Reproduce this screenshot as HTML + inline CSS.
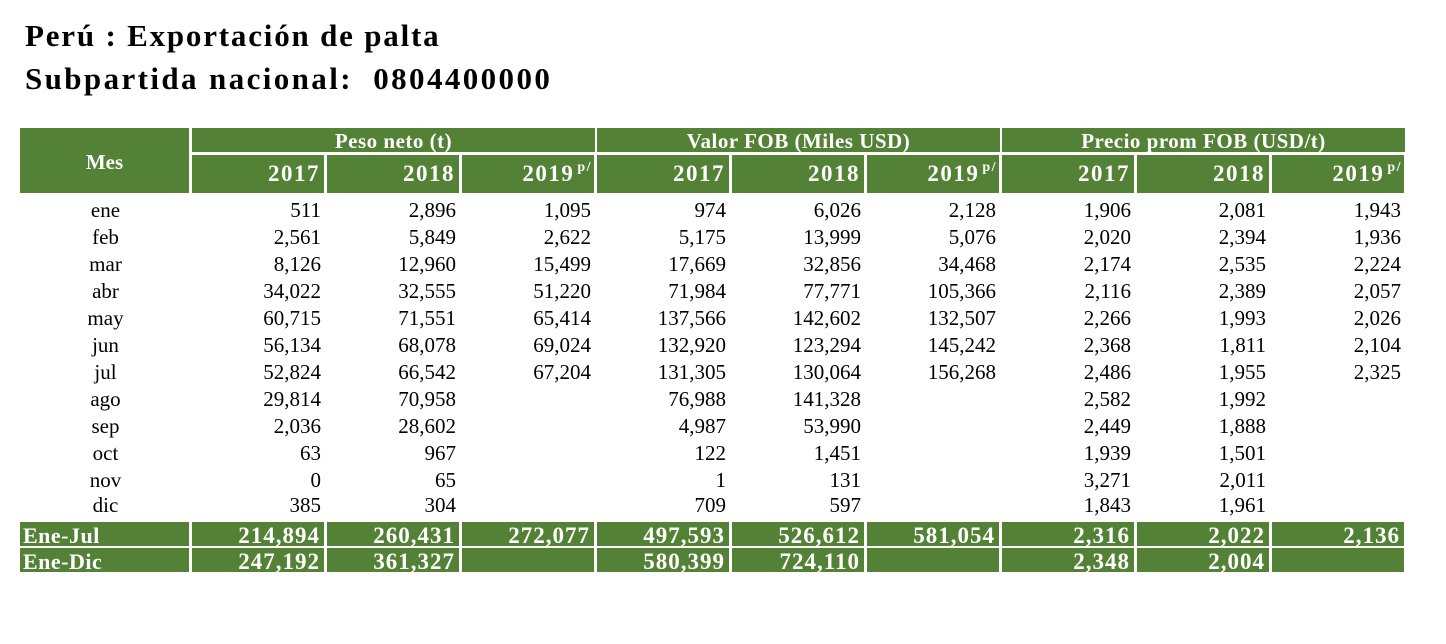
<!DOCTYPE html>
<html><head><meta charset="utf-8">
<style>
body{margin:0;width:1446px;height:644px;background:#fff;position:relative;overflow:hidden;font-family:"Liberation Serif",serif;}
.t{position:absolute;left:25px;font-weight:bold;font-size:31px;color:#000;white-space:nowrap}
.g{position:absolute;background:#538135;color:#fff;font-weight:bold;}
.c{position:absolute;font-size:21px;white-space:nowrap;line-height:24px}
.r{text-align:right}
sup{font-size:14px;vertical-align:top;position:relative;top:-6px;margin-left:3px}
</style></head><body>
<div class="t" style="top:18px;letter-spacing:1.8px">Perú : Exportación de palta</div>
<div class="t" style="top:61px;letter-spacing:2.4px">Subpartida nacional:&nbsp; 0804400000</div>
<div id="tbl"></div>
<script>
const months=["ene","feb","mar","abr","may","jun","jul","ago","sep","oct","nov","dic"];
const peso2017=["511","2,561","8,126","34,022","60,715","56,134","52,824","29,814","2,036","63","0","385"];
const peso2018=["2,896","5,849","12,960","32,555","71,551","68,078","66,542","70,958","28,602","967","65","304"];
const peso2019=["1,095","2,622","15,499","51,220","65,414","69,024","67,204","","","","",""];
const fob2017=["974","5,175","17,669","71,984","137,566","132,920","131,305","76,988","4,987","122","1","709"];
const fob2018=["6,026","13,999","32,856","77,771","142,602","123,294","130,064","141,328","53,990","1,451","131","597"];
const fob2019=["2,128","5,076","34,468","105,366","132,507","145,242","156,268","","","","",""];
const pr2017=["1,906","2,020","2,174","2,116","2,266","2,368","2,486","2,582","2,449","1,939","3,271","1,843"];
const pr2018=["2,081","2,394","2,535","2,389","1,993","1,811","1,955","1,992","1,888","1,501","2,011","1,961"];
const pr2019=["1,943","1,936","2,224","2,057","2,026","2,104","2,325","","","","",""];
const eneJul=["214,894","260,431","272,077","497,593","526,612","581,054","2,316","2,022","2,136"];
const eneDic=["247,192","361,327","","580,399","724,110","","2,348","2,004",""];
const groups=["Peso neto (t)","Valor FOB (Miles USD)","Precio prom FOB (USD/t)"];
const years=["2017","2018","2019"];
const cols=[peso2017,peso2018,peso2019,fob2017,fob2018,fob2019,pr2017,pr2018,pr2019];
const T=document.getElementById('tbl');
const X=[20,191,326,461,596,731,866,1001,1136,1271,1406];
function box(cls,x,y,w,h,html,style){const d=document.createElement('div');d.className=cls;d.style.cssText=`left:${x}px;top:${y}px;width:${w}px;height:${h}px;`+(style||'');d.innerHTML=html;T.appendChild(d);return d;}
let d=box('g',20,128,169,65,'<div style="text-align:center;font-size:21px;margin-top:22px">Mes</div>');

groups.forEach((g,i)=>{const x=X[1+i*3];const w=X[4+i*3]-x-2;
const e=box('g',x+1,128,w,24,g,'text-align:center;font-size:21px;line-height:27px;overflow:hidden;letter-spacing:0.5px');

for(let j=0;j<3;j++){const cx=X[1+i*3+j];const yh=box('g',cx+1,155,X[2+i*3+j]-cx-3,38,years[j]+(j==2?'<sup>p/</sup>':''),'text-align:right;font-size:23px;line-height:38px;box-sizing:border-box;padding-right:'+(j==2?2:4)+'px;letter-spacing:1.5px');
}});
months.forEach((m,r)=>{const y=198+r*27-(r==11?2:0);
const mc=box('c',20,y,171,24,m,'text-align:center');

cols.forEach((c,k)=>{const v=box('c r',X[k+1],y,X[k+2]-X[k+1]-5,24,c[r]);
});});
[[eneJul,'Ene-Jul',522],[eneDic,'Ene-Dic',548]].forEach(([arr,lab,y])=>{
const l=box('g',20,y,169,24,lab,'font-size:22px;line-height:27px;padding-left:3px;box-sizing:border-box;overflow:hidden;letter-spacing:0.5px');

arr.forEach((v,k)=>{const e=box('g',X[k+1]+1,y,X[k+2]-X[k+1]-3,24,v,'text-align:right;font-size:23px;line-height:27px;padding-right:4px;box-sizing:border-box;overflow:hidden;letter-spacing:1px');
});});
</script>
</body></html>
